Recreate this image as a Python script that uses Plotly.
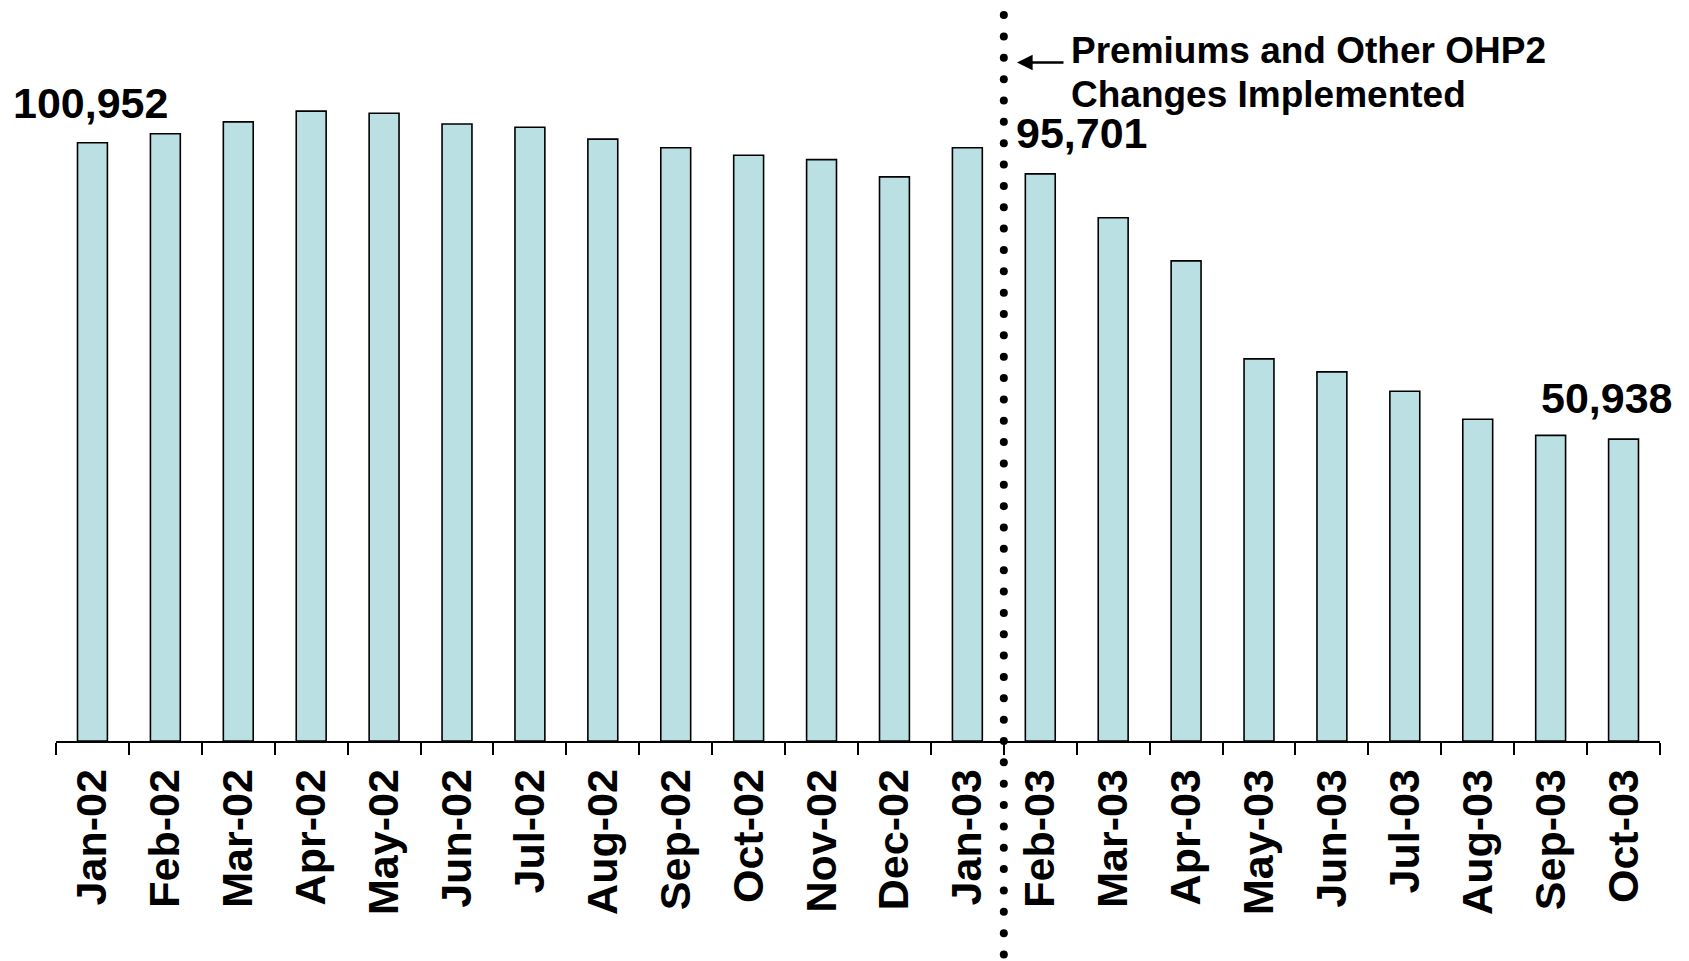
import plotly.graph_objects as go

# Monthly enrollment, Jan 2002 - Oct 2003
months = ["Jan-02", "Feb-02", "Mar-02", "Apr-02", "May-02", "Jun-02", "Jul-02",
          "Aug-02", "Sep-02", "Oct-02", "Nov-02", "Dec-02", "Jan-03", "Feb-03",
          "Mar-03", "Apr-03", "May-03", "Jun-03", "Jul-03", "Aug-03", "Sep-03",
          "Oct-03"]
enrollment = [100952, 102480, 104490, 106300, 105940, 104120, 103580,
              101570, 100120, 98850, 98120, 95200, 100120, 95701,
              88300, 81020, 64480, 62300, 59030, 54300, 51570,
              50938]

# Months whose values are written above the bars
labelled = ["Jan-02", "Feb-03", "Oct-03"]
label_shift = {"Jan-02": (-2, 40), "Feb-03": (42, 41), "Oct-03": (-17, 41)}

# Policy change falls on the boundary between Jan-03 and Feb-03
change_pos = months.index("Feb-03") - 0.5
note_lines = ["Premiums and Other OHP2", "Changes Implemented"]

W, H = 1689, 961
M_L, M_R, M_T, M_B = 56, 29, 40, 220
plot_h = H - M_T - M_B
y_max = 118300

FONT = "Liberation Sans, Arial, sans-serif"
BAR_FILL = "#BBE0E3"


def px_to_paper_x(px):
    return (px - M_L) / (W - M_L - M_R)


def px_to_paper_y(py):
    return (H - M_B - py) / plot_h


fig = go.Figure()

fig.add_trace(go.Bar(
    x=months, y=enrollment,
    marker=dict(color=BAR_FILL, line=dict(color="black", width=1.6)),
    hoverinfo="skip",
))

# Dotted divider: round dots every 21.35 px, from the top edge of the
# figure down through the tick-label band
axis_py = H - M_B
dot_step = 21.35
shapes = []
for k in range(-34, 11):
    shapes.append(dict(
        type="circle", xref="x", yref="paper",
        xsizemode="pixel", ysizemode="pixel",
        xanchor=change_pos, yanchor=px_to_paper_y(axis_py + k * dot_step),
        x0=-4, x1=4, y0=-4, y1=4,
        fillcolor="black", line=dict(width=0), layer="above",
    ))

annotations = []
for m in labelled:
    v = enrollment[months.index(m)]
    dx, dy = label_shift[m]
    annotations.append(dict(
        x=m, y=v, xref="x", yref="y", text=f"{v:,}", showarrow=False,
        xanchor="center", yanchor="middle", xshift=dx, yshift=dy,
        font=dict(family=FONT, size=43, color="black", weight="bold"),
    ))

for line, py in zip(note_lines, [51, 94]):
    annotations.append(dict(
        x=px_to_paper_x(1069), y=px_to_paper_y(py), xref="paper", yref="paper",
        text=line, showarrow=False, xanchor="left", yanchor="middle",
        font=dict(family=FONT, size=37, color="black", weight="bold"),
    ))

# Arrow pointing from the note back to the divider
annotations.append(dict(
    x=px_to_paper_x(1017), y=px_to_paper_y(62.5), xref="paper", yref="paper",
    ax=48, ay=0, text="", showarrow=True, arrowhead=2, arrowsize=1.3,
    arrowwidth=2.4, arrowcolor="black", standoff=0,
))

fig.update_layout(
    width=W, height=H,
    margin=dict(l=M_L, r=M_R, t=M_T, b=M_B),
    paper_bgcolor="white", plot_bgcolor="white",
    showlegend=False, bargap=0.59,
    xaxis=dict(
        type="category", range=[-0.5, len(months) - 0.5],
        tickson="boundaries", ticks="outside",
        ticklen=12, tickwidth=2, tickcolor="black",
        showline=True, linewidth=2, linecolor="black",
        showgrid=False, zeroline=False, tickangle=-90,
        tickfont=dict(family=FONT, size=43, color="black", weight="bold"),
        ticklabelstandoff=9,
    ),
    yaxis=dict(range=[0, y_max], visible=False, showgrid=False, zeroline=False),
    shapes=shapes,
    annotations=annotations,
)

fig.write_html("out.html")
